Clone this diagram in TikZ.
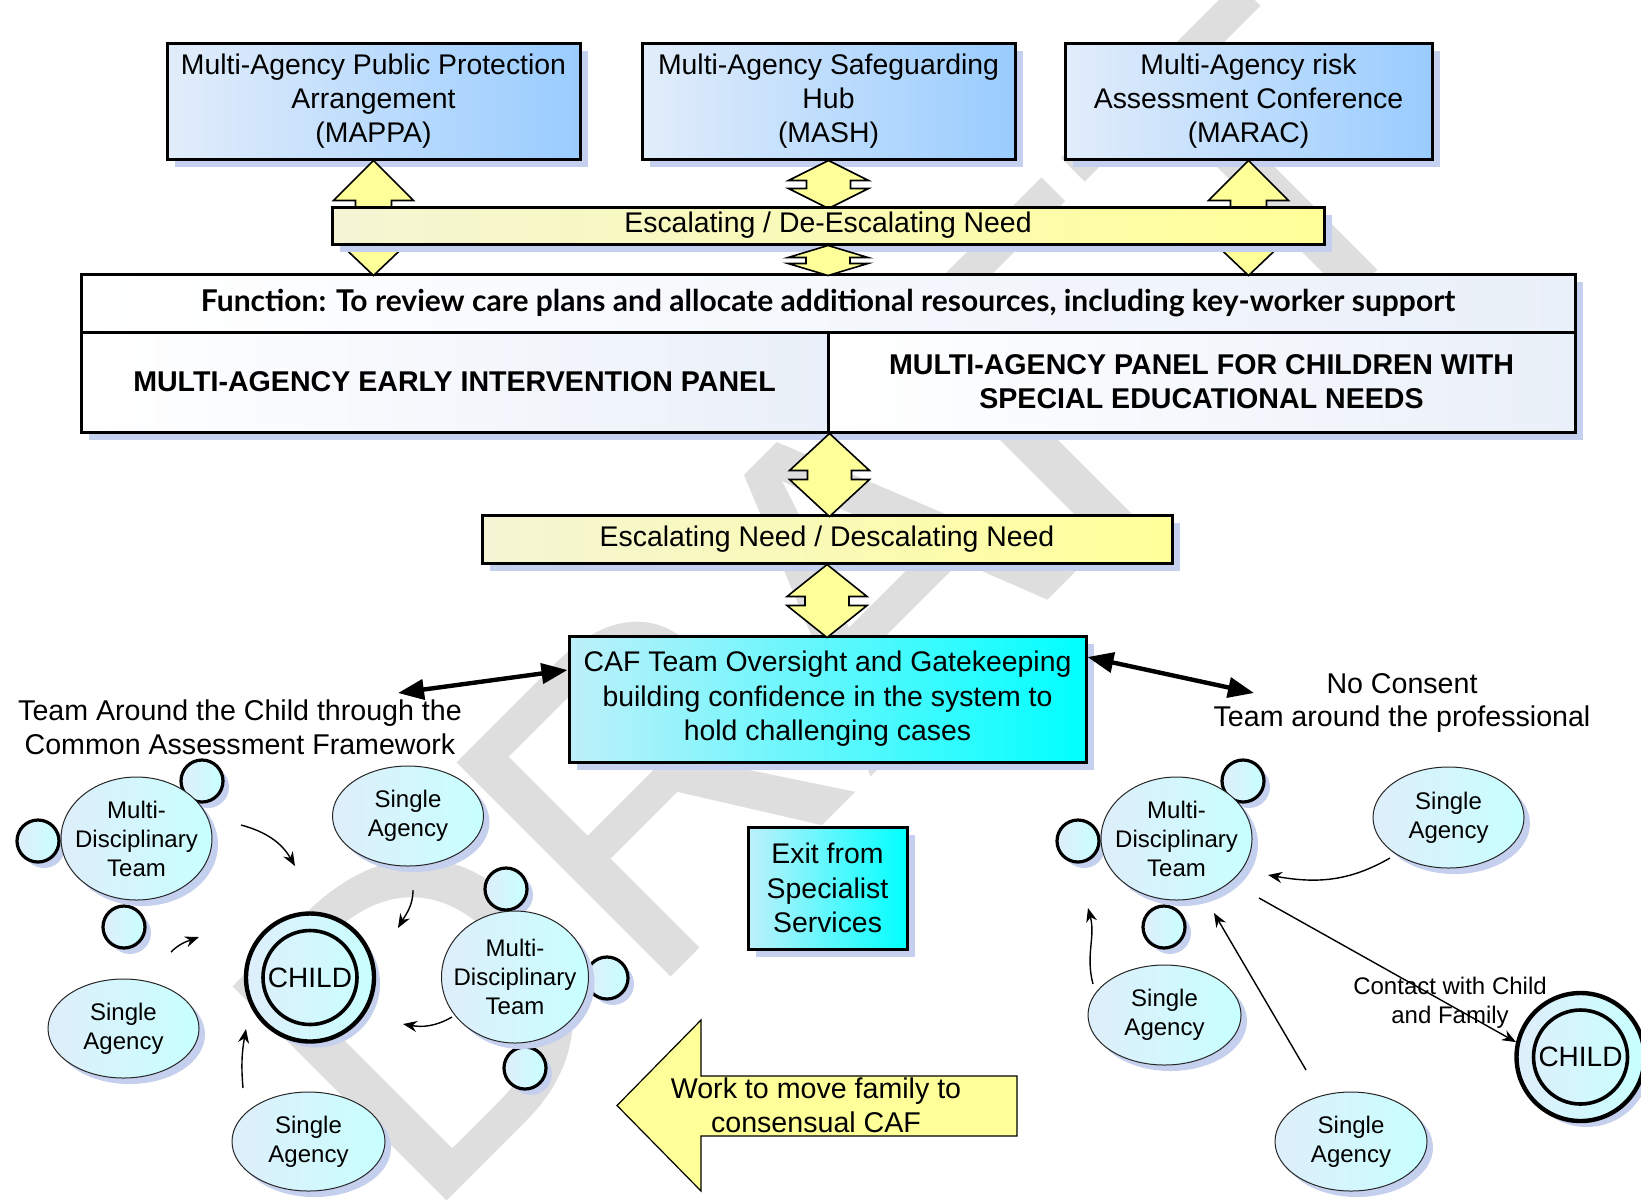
\documentclass[tikz,border=0pt]{standalone}
\usepackage{fontspec}
\setmainfont{Liberation Sans}
\newfontfamily\gillfont{Lato}
\usetikzlibrary{shapes.geometric,arrows.meta,shadows,calc}
\definecolor{boxblueA}{RGB}{226,237,250}
\definecolor{boxblueB}{RGB}{153,204,255}
\definecolor{panelB}{RGB}{234,240,249}
\definecolor{shadowblue}{RGB}{196,208,238}
\definecolor{yelA}{RGB}{245,245,212}
\definecolor{yelB}{RGB}{255,255,153}
\definecolor{cyanA}{RGB}{190,240,250}
\definecolor{cyanB}{RGB}{0,255,255}
\definecolor{ellA}{RGB}{222,238,250}
\definecolor{ellB}{RGB}{200,255,255}
\definecolor{wmgray}{RGB}{222,222,222}
\tikzset{
  shadowed/.style={drop shadow={shadow xshift=4pt,shadow yshift=-4pt,fill=shadowblue,opacity=1}},
  smallshadow/.style={drop shadow={shadow xshift=3pt,shadow yshift=-3pt,fill=shadowblue,opacity=1}},
  topbox/.style={draw, line width=1.5pt, left color=boxblueA, right color=boxblueB, align=center,
    inner sep=0pt, font=\fontsize{14.2}{17}\selectfont, shadowed},
  panelbox/.style={draw, line width=1.5pt, left color=white, right color=panelB, align=center,
    inner sep=0pt, font=\fontsize{14.3}{17}\selectfont\bfseries, shadowed},
  ybar/.style={draw, line width=1.5pt, left color=yelA, right color=yelB, align=center,
    inner sep=0pt, font=\fontsize{14.2}{17}\selectfont, shadowed},
  cafbox/.style={draw, line width=1.5pt, left color=cyanA, right color=cyanB, align=center,
    inner sep=0pt, font=\fontsize{14.2}{17.2}\selectfont, shadowed},
  yblock/.style={draw=black, line width=0.8pt, fill=yelB, line join=miter},
  ell/.style={ellipse, draw=black!85, line width=0.5pt, left color=ellA, right color=ellB,
    inner sep=0pt, smallshadow},
  elltext/.style={align=center, inner sep=0pt, font=\fontsize{12}{14.5}\selectfont},
  smallc/.style={circle, draw, line width=1.6pt, minimum size=21pt, inner sep=0pt,
    left color=ellA, right color=ellB, smallshadow},
  childouter/.style={circle, draw, line width=2.2pt, minimum size=64pt, inner sep=0pt,
    left color=ellA, right color=ellB, smallshadow},
  childinner/.style={circle, draw, line width=1.8pt, minimum size=47pt, inner sep=0pt,
    font=\fontsize{14}{17}\selectfont},
  lbl/.style={align=center, inner sep=0pt, font=\fontsize{14.3}{16.8}\selectfont},
  smalllbl/.style={align=center, inner sep=0pt, font=\fontsize{12}{14.5}\selectfont},
  fatarrow/.style={{Triangle[length=13pt,width=10pt]}-{Triangle[length=13pt,width=10pt]}, line width=2.2pt},
  thinarrow/.style={-{Stealth[length=7pt,width=5.5pt]}, line width=0.7pt},
}
\newcommand\notchedarrow[3]{%
  \draw[yblock] #1 -- ++(40,#2) -- ++(-18,0) -- ++(0,#3) -- ++(18,0) -- ++(-40,#2)
    -- ++(-40,-#2) -- ++(18,0) -- ++(0,-#3) -- ++(-18,0) -- cycle;}
\begin{document}
\begin{tikzpicture}[x=0.5pt,y=-0.5pt]
\useasboundingbox (0,0) rectangle (1641,1200);
\fill[white] (0,0) rectangle (1641,1200);

% watermark
\begin{scope}
\clip (0,0) rectangle (1641,1200);
\node[rotate=45, anchor=base west, inner sep=0pt, text=wmgray,
  font=\fontsize{220}{220}\selectfont] (wm) at (421,1227) {DRAFT};
\end{scope}

% top boxes
\node[topbox, minimum width=206.5pt, minimum height=58pt] (mappa) at (373.5,101)
  {Multi-Agency Public Protection\\Arrangement\\(MAPPA)};
\node[topbox, minimum width=186.5pt, minimum height=58pt] (mash) at (828.5,101)
  {Multi-Agency Safeguarding\\Hub\\(MASH)};
\node[topbox, minimum width=183.5pt, minimum height=58pt] (marac) at (1248.5,101)
  {Multi-Agency risk\\Assessment Conference\\(MARAC)};

% function box and panels
\node[panelbox, minimum width=747pt, minimum height=29pt] (func) at (828,303)
  {\gillfont\fontsize{15}{17}\selectfont\bfseries Function: To review care plans and allocate additional resources, including key-worker support};
\node[panelbox, minimum width=373.5pt, minimum height=50pt] (eip) at (454.5,382)
  {MULTI-AGENCY EARLY INTERVENTION PANEL};
\node[panelbox, minimum width=373.5pt, minimum height=50pt] (sen) at (1201.5,382)
  {MULTI-AGENCY PANEL FOR CHILDREN WITH\\SPECIAL EDUCATIONAL NEEDS};

% CAF and exit
\node[cafbox, minimum width=258.5pt, minimum height=63pt] (caf) at (827.5,699)
  {CAF Team Oversight and Gatekeeping\\building confidence in the system to\\hold challenging cases};
\node[cafbox, minimum width=79.5pt, minimum height=61pt] (exit) at (827.5,888)
  {Exit from\\Specialist\\Services};

% block arrows around the first bar
\draw[yblock] (mappa.south) -- ++(40,40) -- ++(-22,0) -- ++(0,37) -- ++(22,0) -- ++(-40,38)
  -- ++(-40,-38) -- ++(22,0) -- ++(0,-37) -- ++(-22,0) -- cycle;
\draw[yblock] (marac.south) -- ++(40,40) -- ++(-22,0) -- ++(0,37) -- ++(22,0) -- ++(-40,38)
  -- ++(-40,-38) -- ++(22,0) -- ++(0,-37) -- ++(-22,0) -- cycle;
\notchedarrow{(mash.south)}{20}{8}

\node[ybar, minimum width=496pt, minimum height=18.5pt] (bar1) at (828,225.5)
  {Escalating / De-Escalating Need};
\notchedarrow{(bar1.south)}{12}{6}

% lower bar
\node[ybar, minimum width=345pt, minimum height=24pt] (bar2) at (827,539)
  {Escalating Need / Descalating Need};
\notchedarrow{(eip.south east)}{37}{9}
\notchedarrow{(bar2.south)}{32}{9}

% labels beside CAF
\node[lbl] (tac) at (240,727) {Team Around the Child through the\\Common Assessment Framework};
\node[lbl] (ncl) at (1402,703) {No Consent\\Team around the professional};
\coordinate (tacend) at (398,693);
\coordinate (ncend) at (1254,693);
\draw[fatarrow] (tacend) -- ($(caf.west)+(0,-29)$);
\draw[fatarrow] ($(caf.east)+(0,-42)$) -- (ncend);

% left cluster
\node[smallc] (sl1) at (202,781) {};
\node[smallc] (sl2) at (38,841) {};
\node[smallc] (sl3) at (124,927) {};
\node[ell, minimum width=75.5pt, minimum height=61.5pt] (mdtl) at (136.5,838.5) {};
\node[elltext] (mdtlt) at (mdtl) {Multi-\\Disciplinary\\Team};
\node[ell, minimum width=75.5pt, minimum height=50pt] (sal1) at (408,816) {};
\node[elltext] (sal1t) at (sal1) {Single\\Agency};
\node[smallc] (sl4) at (506,889) {};
\node[smallc] (sl5) at (607,978) {};
\node[smallc] (sl6) at (525,1068) {};
\node[ell, minimum width=73.5pt, minimum height=66pt] (mdtl2) at (515,977) {};
\node[elltext] (mdtl2t) at (mdtl2) {Multi-\\Disciplinary\\Team};
\node[ell, minimum width=75.5pt, minimum height=49.5pt] (sal2) at (123.5,1028.5) {};
\node[elltext] (sal2t) at (sal2) {Single\\Agency};
\node[ell, minimum width=76.5pt, minimum height=49.5pt] (sal3) at (308.5,1141.5) {};
\node[elltext] (sal3t) at (sal3) {Single\\Agency};
\node[childouter] (childl) at (310,977.5) {};
\node[childinner] (childlin) at (childl) {CHILD};

\coordinate (a1s) at (241,825); \coordinate (a1e) at (295,866);
\coordinate (a2s) at (413,890); \coordinate (a2e) at (398,928);
\coordinate (a3s) at (171,952); \coordinate (a3e) at (199,937);
\coordinate (a4s) at (452,1017); \coordinate (a4e) at (403,1024);
\coordinate (a5s) at (243,1088); \coordinate (a5e) at (246,1029);
\draw[thinarrow] (a1s) to[out=-15,in=120] (a1e);
\draw[thinarrow] (a2s) to[out=-90,in=60] (a2e);
\draw[thinarrow] (a3s) to[out=45,in=200] (a3e);
\draw[thinarrow] (a4s) to[out=210,in=-10] (a4e);
\draw[thinarrow] (a5s) to[out=95,in=-100] (a5e);

% right cluster
\node[smallc] (sr1) at (1243,781) {};
\node[smallc] (sr2) at (1078,841) {};
\node[smallc] (sr3) at (1164,927) {};
\node[ell, minimum width=75.5pt, minimum height=61.5pt] (mdtr) at (1176.5,838.5) {};
\node[elltext] (mdtrt) at (mdtr) {Multi-\\Disciplinary\\Team};
\node[ell, minimum width=75.5pt, minimum height=50.5pt] (sar1) at (1448.5,817.5) {};
\node[elltext] (sar1t) at (sar1) {Single\\Agency};
\node[ell, minimum width=76.5pt, minimum height=50pt] (sar2) at (1164.5,1015) {};
\node[elltext] (sar2t) at (sar2) {Single\\Agency};
\node[ell, minimum width=76pt, minimum height=49.5pt] (sar3) at (1351,1141.5) {};
\node[elltext] (sar3t) at (sar3) {Single\\Agency};
\node[childouter] (childr) at (1580.5,1057) {};
\node[childinner] (childrin) at (childr) {CHILD};

\coordinate (b1s) at (1390,858); \coordinate (b1e) at (1268,875);
\coordinate (b2s) at (1093,984); \coordinate (b2e) at (1088,908);
\coordinate (b3s) at (1306,1070); \coordinate (b3e) at (1214,913);
\coordinate (b4s) at (1259,898);
\draw[thinarrow] (b1s) to[out=210,in=-10] (b1e);
\draw[thinarrow] (b2s) to[out=105,in=-75] (b2e);
\draw[thinarrow] (b3s) -- (b3e);
\draw[thinarrow] (b4s) -- (childr.167);
\node[smalllbl] (contact) at (1450,1003) {Contact with Child\\and Family};

% work arrow
\draw[draw=black, line width=0.6pt, fill=yelB] (617,1105.5) -- (701,1020) -- (701,1076) -- (1017,1076)
  -- (1017,1136) -- (701,1136) -- (701,1191) -- cycle;
\node[lbl] (work) at (816,1105) {Work to move family to\\consensual CAF};
\end{tikzpicture}
\end{document}
